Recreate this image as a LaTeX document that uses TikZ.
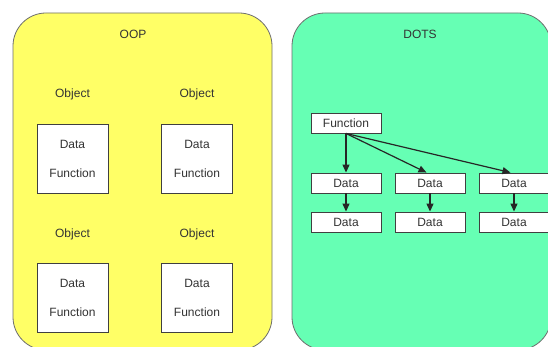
\documentclass[tikz,border=0pt]{standalone}
\usepackage{fontspec}
\setmainfont{Liberation Sans}
\usetikzlibrary{arrows.meta,calc}
\definecolor{oopyellow}{RGB}{255,255,102}
\definecolor{dotsgreen}{RGB}{102,255,180}
\definecolor{edgegray}{RGB}{110,110,110}
\tikzset{
  panel/.style={draw=edgegray,line width=0.8pt,rounded corners=33pt},
  label/.style={font=\fontsize{12}{13}\selectfont,text=black!80},
  objbox/.style={draw=black!75,line width=0.9pt,fill=white,minimum width=71pt,minimum height=69pt,
    align=center,inner sep=0pt,font=\fontsize{12}{29}\selectfont,text=black!80},
  cellbox/.style={draw=black!75,line width=0.9pt,fill=white,minimum width=70pt,minimum height=20pt,
    inner sep=0pt,font=\fontsize{12}{13}\selectfont,text=black!80},
  link/.style={draw=black!85,line width=1.2pt,-{Triangle[length=8pt,width=7pt]}}
}
\begin{document}
\begin{tikzpicture}[x=1pt,y=-1pt]
\useasboundingbox (0,0) rectangle (548,347);
\fill[white] (0,0) rectangle (548,347);

% two panels
\draw[panel,fill=oopyellow] (13,13) rectangle (272,350);
\draw[panel,fill=dotsgreen] (292,13) rectangle (551,350);

% OOP side
\node[label] (oop) at (133,34) {OOP};
\node[label] (o1) at (72.5,94.5) {Object};
\node[label] (o2) at (197,94.5) {Object};
\node[label] (o3) at (72.5,234.5) {Object};
\node[label] (o4) at (197,234.5) {Object};
\node[objbox] (b1) at (72.5,158.5) {Data\\Function};
\node[objbox] (b2) at (197,158.5) {Data\\Function};
\node[objbox] (b3) at (72.5,297.5) {Data\\Function};
\node[objbox] (b4) at (197,297.5) {Data\\Function};

% DOTS side
\node[label] (dots) at (420,34) {DOTS};
\node[cellbox] (fn) at (346,123) {Function};
\node[cellbox] (d1) at (346,183) {Data};
\node[cellbox] (d2) at (430,183) {Data};
\node[cellbox] (d3) at (514,183) {Data};
\node[cellbox] (e1) at (346,222) {Data};
\node[cellbox] (e2) at (430,222) {Data};
\node[cellbox] (e3) at (514,222) {Data};

\draw[link] (fn.south) -- (d1.north);
\draw[link] (fn.south) -- ($(d2.north west)!0.45!(d2.north east)$);
\draw[link] (fn.south) -- ($(d3.north west)!0.45!(d3.north east)$);
\draw[link] (d1.south) -- (e1.north);
\draw[link] (d2.south) -- (e2.north);
\draw[link] (d3.south) -- (e3.north);
\end{tikzpicture}
\end{document}
